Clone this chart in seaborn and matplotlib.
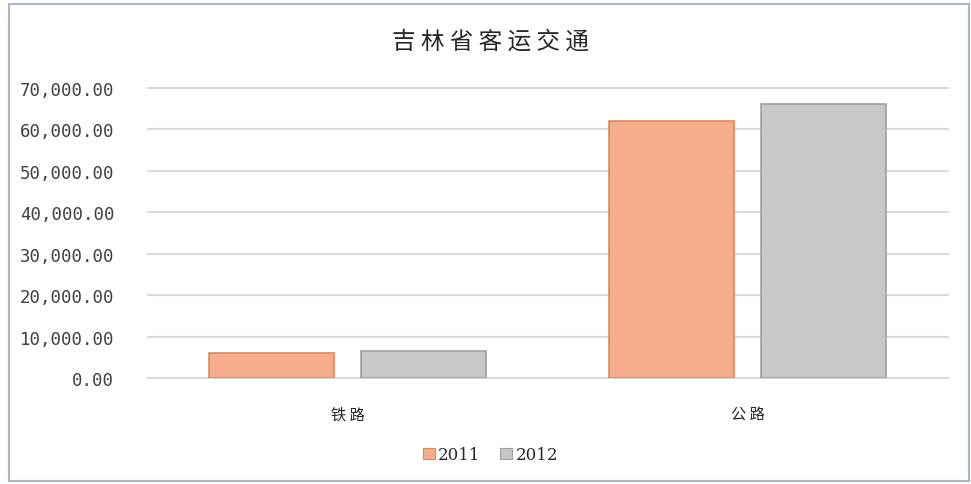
import matplotlib
matplotlib.use("Agg")
import matplotlib.pyplot as plt
import matplotlib.patches as mpatches
from matplotlib.ticker import FuncFormatter
import pandas as pd
import seaborn as sns

# Passenger transport volume in Jilin province, by mode and year
categories = ["铁路", "公路"]
years = ["2011", "2012"]
values_2011 = [6100, 62150]
values_2012 = [6400, 66200]
title = "吉林省客运交通"
y_ticks = [0, 10000, 20000, 30000, 40000, 50000, 60000, 70000]

df = pd.DataFrame({
    "mode": categories * 2,
    "year": [years[0]] * len(categories) + [years[1]] * len(categories),
    "value": values_2011 + values_2012,
})

sns.set_theme(style="white")
plt.rcParams["font.family"] = ["Noto Sans CJK SC", "DejaVu Sans"]

fill_colors = {"2011": "#F6AD8B", "2012": "#C8C8C8"}
edge_colors = {"2011": "#E3865A", "2012": "#A0A0A0"}

fig = plt.figure(figsize=(9.71, 4.85), dpi=100)
ax = fig.add_axes([0.152, 0.2186, 0.824, 0.5979])

sns.barplot(data=df, x="mode", y="value", hue="year", hue_order=years,
            order=categories, palette=fill_colors, saturation=1,
            width=0.76, gap=0.18, ax=ax, legend=False, zorder=3)

for container, yr in zip(ax.containers, years):
    for bar in container:
        bar.set_edgecolor(edge_colors[yr])
        bar.set_linewidth(1.2)

ax.set_xlim(-0.5, 1.5)
ax.set_ylim(0, 70000)
ax.set_yticks(y_ticks)
ax.yaxis.set_major_formatter(FuncFormatter(lambda v, p: f"{v:,.2f}"))
ax.grid(axis="y", color="#D9D9D9", linewidth=1.5, zorder=0)
for gl in ax.get_ygridlines():
    gl.set_clip_on(False)
ax.set_axisbelow(True)
for s in ax.spines.values():
    s.set_visible(False)
ax.set_xlabel("")
ax.set_ylabel("")
ax.tick_params(axis="y", length=0, pad=24, labelsize=12.5, labelcolor="#404040")
for lab in ax.get_yticklabels():
    lab.set_fontfamily("DejaVu Sans Mono")
ax.set_xticks(range(len(categories)))
ax.set_xticklabels([" ".join(c) for c in categories], fontsize=11, color="#262626")
ax.tick_params(axis="x", length=0, pad=20)

fig.text(0.505, 0.913, " ".join(title), ha="center", va="center",
         fontsize=17, color="#262626")

handles = [mpatches.Patch(facecolor=fill_colors[y], edgecolor=edge_colors[y],
                          linewidth=0.8, label=y) for y in years]
fig.legend(handles=handles, loc="center", bbox_to_anchor=(0.505, 0.06),
           ncol=2, frameon=False, handlelength=0.7, handleheight=0.7,
           handletextpad=0.2, columnspacing=1.2,
           prop={"family": "DejaVu Serif", "size": 12})

# outer chart border
fig.patches.append(mpatches.Rectangle((0.009, 0.006), 0.989, 0.984,
                                      transform=fig.transFigure, fill=False,
                                      edgecolor="#A9B8C8", linewidth=1.5))

fig.savefig("out.png", dpi=100, facecolor="white")
